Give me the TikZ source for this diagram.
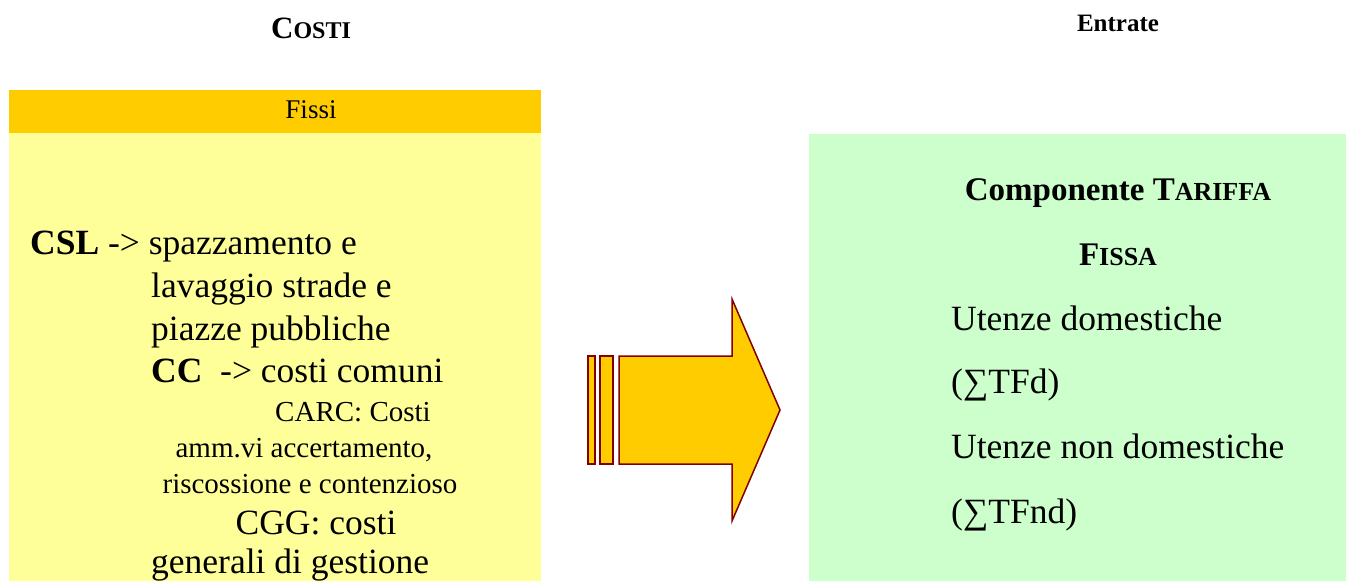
\documentclass[tikz,border=0pt]{standalone}
\usepackage{fontspec}
\setmainfont{Liberation Serif}
\definecolor{hdrorange}{HTML}{FFCC00}
\definecolor{paleyellow}{HTML}{FFFF99}
\definecolor{palegreen}{HTML}{CCFFCC}
\definecolor{arrowline}{HTML}{800000}
\newcommand{\bigfont}{\fontsize{35.5}{40}\selectfont}
\newcommand{\smallfont}{\fontsize{29}{34}\selectfont}
\begin{document}
\begin{tikzpicture}[x=1pt,y=-1pt,
  lt/.style={inner sep=0pt, anchor=base west, font=\bigfont},
  ct/.style={inner sep=0pt, anchor=base, font=\bigfont},
  st/.style={inner sep=0pt, anchor=base, font=\smallfont},
  arrowpart/.style={fill=hdrorange, draw=arrowline, line width=1.5pt, line join=miter}]
\useasboundingbox (0,0) rectangle (1346,581);
% titles
\node[inner sep=0pt, anchor=base, font=\fontsize{31}{36}\selectfont\bfseries] (costi) at (311,38) {C{\fontsize{24}{28}\selectfont OSTI}};
\node[inner sep=0pt, anchor=base, font=\fontsize{25}{30}\selectfont\bfseries] (entrate) at (1118,31) {Entrate};
% left panel
\fill[hdrorange] (9,90) rectangle (541,133);
\fill[paleyellow] (9,133) rectangle (541,581);
\node[inner sep=0pt, anchor=base, font=\fontsize{27}{32}\selectfont] (fissi) at (311,118) {Fissi};
\node[lt] (l1) at (30,254) {\textbf{CSL} -> spazzamento e};
\node[lt] (l2) at (151,297) {lavaggio strade e};
\node[lt] (l3) at (151,340) {piazze pubbliche};
\node[lt] (l4) at (151,382) {\textbf{CC}\ \ -> costi comuni};
\node[st] (l5) at (353,421) {CARC: Costi};
\node[st] (l6) at (304,457) {amm.vi accertamento,};
\node[st] (l7) at (310,493) {riscossione e contenzioso};
\node[ct] (l8) at (316,534) {CGG: costi};
\node[lt] (l9) at (151,573) {generali di gestione};
% arrow
\draw[arrowpart] (588,356) rectangle (595,464);
\draw[arrowpart] (600,356) rectangle (613,464);
\draw[arrowpart] (619,356) -- (732,356) -- (732,299) -- (780,410) -- (732,521) -- (732,464) -- (619,464) -- cycle;
% right panel
\fill[palegreen] (809,134) rectangle (1346,581);
\node[inner sep=0pt, anchor=base, font=\fontsize{33}{38}\selectfont\bfseries] (r1) at (1118,200) {Componente T{\fontsize{26}{30}\selectfont ARIFFA}};
\node[inner sep=0pt, anchor=base, font=\fontsize{33}{38}\selectfont\bfseries] (r2) at (1118,265) {F{\fontsize{26}{30}\selectfont ISSA}};
\node[lt] (r3) at (951,330) {Utenze domestiche};
\node[lt] (r4) at (951,393) {(∑TFd)};
\node[lt] (r5) at (951,458) {Utenze non domestiche};
\node[lt] (r6) at (951,523) {(∑TFnd)};
\end{tikzpicture}
\end{document}
